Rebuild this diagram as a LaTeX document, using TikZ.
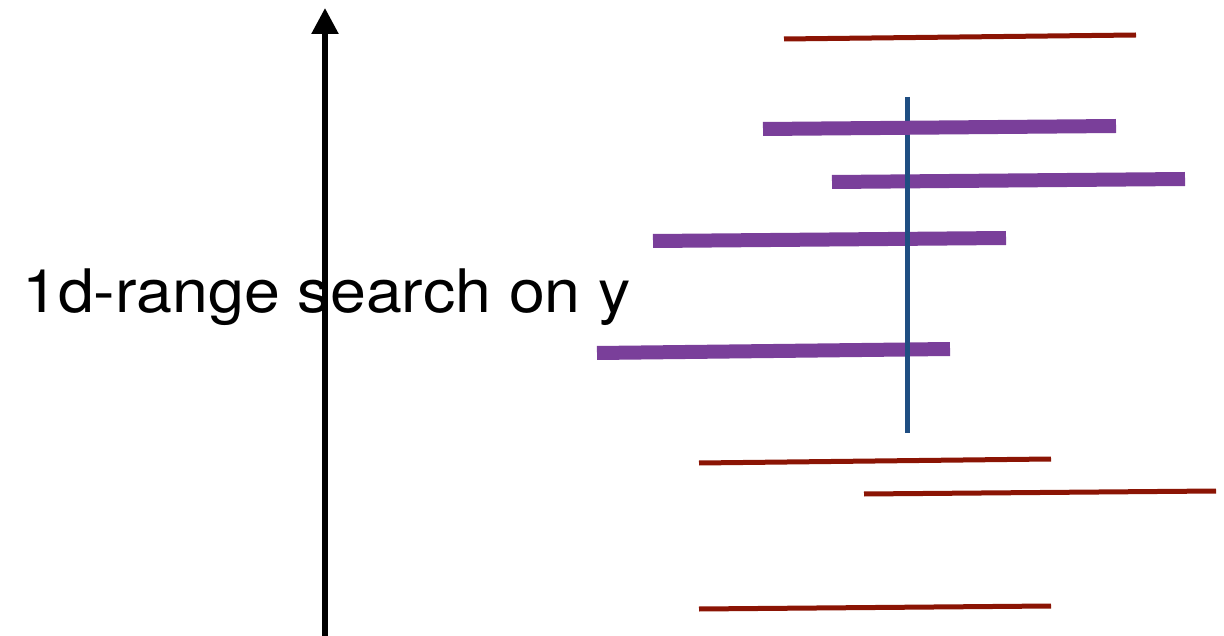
\documentclass[tikz,border=0pt]{standalone}
\usepackage{fontspec}
\setmainfont{TeX Gyre Heros}
\usetikzlibrary{arrows.meta}
\definecolor{segred}{HTML}{8B1404}
\definecolor{segpurple}{HTML}{7A3F9A}
\definecolor{queryblue}{HTML}{1F4E82}
\tikzset{
  axis/.style={line width=5.5pt, black, -{Triangle[width=26pt,length=26pt]}},
  thinseg/.style={line width=5pt, segred},
  thickseg/.style={line width=14pt, segpurple},
  query/.style={line width=5pt, queryblue},
  caption/.style={anchor=base west, inner sep=0pt, font=\fontsize{60}{60}\selectfont, xscale=1.075}
}
\begin{document}
\begin{tikzpicture}[x=1pt,y=-1pt]
\useasboundingbox (0,0) rectangle (1224,636);
% axis
\coordinate (axb) at (325,640);
\coordinate (axt) at (325,8);
\draw[axis] (axb) -- (axt);
% caption
\node[caption] (lbl) at (22,313) {1d-range search on y};
% segments not crossing the query line
\coordinate (r1a) at (784,39);  \coordinate (r1b) at (1136,35);
\coordinate (r2a) at (699,463); \coordinate (r2b) at (1051,459);
\coordinate (r3a) at (864,494); \coordinate (r3b) at (1216,491);
\coordinate (r4a) at (699,609); \coordinate (r4b) at (1051,606);
\draw[thinseg] (r1a) -- (r1b);
\draw[thinseg] (r2a) -- (r2b);
\draw[thinseg] (r3a) -- (r3b);
\draw[thinseg] (r4a) -- (r4b);
% segments crossing the query line
\coordinate (p1a) at (763,129); \coordinate (p1b) at (1116,126);
\coordinate (p2a) at (832,182); \coordinate (p2b) at (1185,179);
\coordinate (p3a) at (653,241); \coordinate (p3b) at (1006,238);
\coordinate (p4a) at (597,353); \coordinate (p4b) at (950,349);
\draw[thickseg] (p2a) -- (p2b);
\draw[thickseg] (p3a) -- (p3b);
\draw[thickseg] (p4a) -- (p4b);
% query line
\coordinate (qa) at (907,97); \coordinate (qb) at (907,433);
\draw[query] (qa) -- (qb);
\draw[thickseg] (p1a) -- (p1b);
\end{tikzpicture}
\end{document}
